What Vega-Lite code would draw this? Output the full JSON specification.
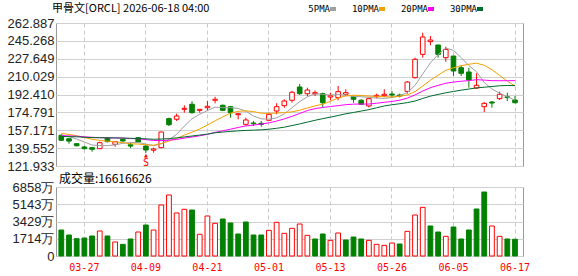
{
  "$schema": "https://vega.github.io/schema/vega-lite/v6.json",
  "background": "#ffffff",
  "padding": {"left": 6, "top": 2, "right": 4, "bottom": 2},
  "spacing": 21,
  "bounds": "flush",
  "data": {"values": [
    {"d":"03-24","o":152.2,"h":153.2,"l":146.8,"c":147.3,"v":2584,"vu":0,"5PMA":152.2,"10PMA":154.0,"20PMA":151.8,"30PMA":151.0},
    {"d":"03-25","o":148.8,"h":149.5,"l":143.9,"c":146.5,"v":2087,"vu":0,"5PMA":150.8,"10PMA":153.1,"20PMA":151.6,"30PMA":150.9},
    {"d":"03-26","o":143.9,"h":144.6,"l":141.3,"c":141.9,"v":1723,"vu":0,"5PMA":148.5,"10PMA":151.7,"20PMA":151.3,"30PMA":150.7},
    {"d":"03-27","o":140.7,"h":141.6,"l":138.3,"c":139.0,"v":1789,"vu":0,"5PMA":145.6,"10PMA":150.0,"20PMA":150.7,"30PMA":150.3},
    {"d":"03-30","o":140.0,"h":140.6,"l":136.0,"c":138.4,"v":1988,"vu":0,"5PMA":142.6,"10PMA":148.3,"20PMA":150.2,"30PMA":149.9},
    {"d":"03-31","o":139.0,"h":145.9,"l":138.6,"c":144.9,"v":2485,"vu":1,"5PMA":142.1,"10PMA":147.2,"20PMA":149.9,"30PMA":149.8},
    {"d":"04-01","o":149.5,"h":149.8,"l":145.2,"c":145.9,"v":1988,"vu":0,"5PMA":142.0,"10PMA":146.4,"20PMA":149.7,"30PMA":149.7},
    {"d":"04-02","o":143.3,"h":146.3,"l":140.9,"c":145.9,"v":1392,"vu":1,"5PMA":142.8,"10PMA":145.7,"20PMA":149.6,"30PMA":149.6},
    {"d":"04-06","o":148.2,"h":148.9,"l":145.9,"c":146.6,"v":1160,"vu":0,"5PMA":144.3,"10PMA":145.0,"20PMA":149.4,"30PMA":149.5},
    {"d":"04-07","o":142.9,"h":144.9,"l":139.7,"c":141.6,"v":1690,"vu":0,"5PMA":145.0,"10PMA":143.8,"20PMA":149.0,"30PMA":149.2},
    {"d":"04-08","o":149.8,"h":150.5,"l":144.9,"c":145.6,"v":2385,"vu":1,"5PMA":145.1,"10PMA":143.6,"20PMA":148.8,"30PMA":149.1},
    {"d":"04-09","o":141.6,"h":142.5,"l":135.0,"c":137.7,"v":3081,"vu":0,"5PMA":143.5,"10PMA":142.8,"20PMA":147.9,"30PMA":148.7,"sig":"S"},
    {"d":"04-10","o":137.5,"h":140.0,"l":135.0,"c":138.7,"v":2584,"vu":1,"5PMA":142.0,"10PMA":142.4,"20PMA":147.1,"30PMA":148.3},
    {"d":"04-13","o":140.0,"h":155.8,"l":139.5,"c":155.4,"v":5069,"vu":1,"5PMA":143.8,"10PMA":144.1,"20PMA":147.0,"30PMA":148.5},
    {"d":"04-14","o":168.6,"h":169.6,"l":161.4,"c":162.6,"v":6063,"vu":1,"5PMA":148.0,"10PMA":146.5,"20PMA":147.4,"30PMA":148.9},
    {"d":"04-15","o":168.0,"h":173.5,"l":166.3,"c":171.2,"v":4274,"vu":1,"5PMA":153.1,"10PMA":149.1,"20PMA":148.1,"30PMA":149.7},
    {"d":"04-16","o":177.8,"h":181.8,"l":174.5,"c":178.8,"v":4641,"vu":1,"5PMA":161.3,"10PMA":152.4,"20PMA":149.4,"30PMA":150.6},
    {"d":"04-17","o":182.8,"h":185.8,"l":173.5,"c":174.5,"v":4572,"vu":0,"5PMA":168.5,"10PMA":155.3,"20PMA":150.5,"30PMA":151.5},
    {"d":"04-20","o":176.8,"h":178.0,"l":174.5,"c":177.8,"v":2157,"vu":1,"5PMA":173.0,"10PMA":158.4,"20PMA":151.7,"30PMA":152.4},
    {"d":"04-21","o":179.4,"h":186.0,"l":176.8,"c":180.8,"v":3976,"vu":1,"5PMA":176.6,"10PMA":162.3,"20PMA":153.1,"30PMA":153.4},
    {"d":"04-22","o":186.7,"h":190.2,"l":183.7,"c":187.7,"v":3250,"vu":1,"5PMA":179.9,"10PMA":166.5,"20PMA":155.1,"30PMA":154.7},
    {"d":"04-23","o":181.8,"h":182.5,"l":176.0,"c":176.8,"v":3677,"vu":0,"5PMA":179.5,"10PMA":170.4,"20PMA":156.6,"30PMA":155.4},
    {"d":"04-24","o":180.4,"h":181.0,"l":169.6,"c":174.5,"v":3280,"vu":0,"5PMA":179.5,"10PMA":174.0,"20PMA":158.2,"30PMA":156.0},
    {"d":"04-27","o":172.5,"h":173.8,"l":167.9,"c":173.5,"v":2187,"vu":0,"5PMA":178.7,"10PMA":175.8,"20PMA":159.9,"30PMA":156.6},
    {"d":"04-28","o":163.0,"h":169.6,"l":161.7,"c":167.3,"v":3379,"vu":0,"5PMA":176.0,"10PMA":176.3,"20PMA":161.4,"30PMA":157.0},
    {"d":"04-29","o":164.3,"h":166.3,"l":161.3,"c":163.6,"v":2087,"vu":0,"5PMA":171.1,"10PMA":175.5,"20PMA":162.3,"30PMA":157.3},
    {"d":"04-30","o":164.0,"h":166.3,"l":160.7,"c":163.0,"v":2087,"vu":0,"5PMA":168.4,"10PMA":174.0,"20PMA":163.2,"30PMA":157.6},
    {"d":"05-01","o":167.0,"h":174.5,"l":166.3,"c":172.9,"v":2551,"vu":1,"5PMA":168.1,"10PMA":173.8,"20PMA":164.5,"30PMA":158.2},
    {"d":"05-04","o":176.1,"h":183.8,"l":173.0,"c":180.4,"v":3346,"vu":1,"5PMA":169.4,"10PMA":174.1,"20PMA":166.2,"30PMA":159.1},
    {"d":"05-05","o":181.4,"h":187.7,"l":179.4,"c":186.0,"v":2253,"vu":1,"5PMA":173.2,"10PMA":174.6,"20PMA":168.4,"30PMA":160.2},
    {"d":"05-06","o":186.7,"h":196.0,"l":184.3,"c":194.6,"v":2750,"vu":1,"5PMA":179.4,"10PMA":175.3,"20PMA":170.9,"30PMA":161.8},
    {"d":"05-07","o":199.8,"h":202.8,"l":192.0,"c":193.2,"v":3180,"vu":1,"5PMA":185.4,"10PMA":176.9,"20PMA":173.7,"30PMA":163.4},
    {"d":"05-08","o":193.2,"h":199.1,"l":190.9,"c":196.8,"v":2054,"vu":1,"5PMA":190.2,"10PMA":179.1,"20PMA":176.6,"30PMA":165.2},
    {"d":"05-11","o":193.2,"h":196.5,"l":190.9,"c":194.2,"v":1690,"vu":0,"5PMA":193.0,"10PMA":181.2,"20PMA":178.5,"30PMA":167.0},
    {"d":"05-12","o":193.2,"h":194.2,"l":180.1,"c":184.3,"v":2187,"vu":0,"5PMA":192.6,"10PMA":182.9,"20PMA":179.6,"30PMA":168.6},
    {"d":"05-13","o":189.9,"h":194.2,"l":186.7,"c":191.2,"v":1557,"vu":1,"5PMA":191.9,"10PMA":185.7,"20PMA":180.6,"30PMA":170.1},
    {"d":"05-14","o":189.3,"h":200.8,"l":186.7,"c":195.2,"v":2286,"vu":1,"5PMA":192.3,"10PMA":188.9,"20PMA":181.4,"30PMA":171.7},
    {"d":"05-15","o":192.6,"h":197.5,"l":190.9,"c":194.2,"v":1590,"vu":0,"5PMA":191.8,"10PMA":191.0,"20PMA":182.4,"30PMA":173.4},
    {"d":"05-18","o":190.2,"h":190.9,"l":184.3,"c":187.7,"v":1888,"vu":0,"5PMA":190.5,"10PMA":191.7,"20PMA":182.9,"30PMA":174.7},
    {"d":"05-19","o":186.7,"h":187.7,"l":182.1,"c":182.8,"v":1690,"vu":0,"5PMA":190.2,"10PMA":191.4,"20PMA":183.0,"30PMA":176.1},
    {"d":"05-20","o":181.1,"h":189.3,"l":179.6,"c":188.3,"v":1557,"vu":1,"5PMA":189.6,"10PMA":190.8,"20PMA":183.0,"30PMA":177.5},
    {"d":"05-21","o":190.2,"h":193.2,"l":188.7,"c":191.6,"v":1160,"vu":1,"5PMA":188.9,"10PMA":190.6,"20PMA":183.8,"30PMA":179.3},
    {"d":"05-22","o":191.2,"h":197.5,"l":189.9,"c":192.6,"v":1060,"vu":1,"5PMA":188.6,"10PMA":190.2,"20PMA":184.7,"30PMA":181.1},
    {"d":"05-26","o":192.9,"h":195.9,"l":189.3,"c":191.9,"v":1292,"vu":1,"5PMA":189.4,"10PMA":190.0,"20PMA":185.6,"30PMA":182.3},
    {"d":"05-27","o":191.9,"h":193.2,"l":189.6,"c":190.9,"v":1193,"vu":0,"5PMA":191.1,"10PMA":190.6,"20PMA":186.8,"30PMA":183.3},
    {"d":"05-28","o":195.5,"h":205.7,"l":193.2,"c":204.7,"v":2451,"vu":1,"5PMA":194.3,"10PMA":192.0,"20PMA":188.8,"30PMA":184.4},
    {"d":"05-29","o":209.0,"h":228.7,"l":208.0,"c":227.1,"v":4075,"vu":1,"5PMA":201.4,"10PMA":195.2,"20PMA":192.0,"30PMA":186.0},
    {"d":"06-01","o":232.0,"h":253.3,"l":228.7,"c":249.1,"v":4837,"vu":1,"5PMA":212.7,"10PMA":200.7,"20PMA":195.8,"30PMA":188.5},
    {"d":"06-02","o":244.5,"h":250.1,"l":240.9,"c":246.1,"v":2982,"vu":0,"5PMA":223.6,"10PMA":206.5,"20PMA":199.1,"30PMA":190.8},
    {"d":"06-03","o":241.2,"h":241.5,"l":228.7,"c":232.0,"v":2385,"vu":0,"5PMA":231.8,"10PMA":211.4,"20PMA":201.4,"30PMA":192.5},
    {"d":"06-04","o":228.7,"h":239.5,"l":224.7,"c":236.9,"v":1955,"vu":1,"5PMA":238.2,"10PMA":216.3,"20PMA":203.5,"30PMA":194.1},
    {"d":"06-05","o":230.3,"h":230.6,"l":210.6,"c":215.6,"v":2882,"vu":0,"5PMA":235.9,"10PMA":218.7,"20PMA":204.7,"30PMA":195.4},
    {"d":"06-08","o":218.8,"h":221.2,"l":210.6,"c":213.3,"v":1690,"vu":0,"5PMA":228.8,"10PMA":220.8,"20PMA":205.5,"30PMA":196.7},
    {"d":"06-09","o":214.6,"h":218.8,"l":199.1,"c":206.7,"v":2584,"vu":0,"5PMA":220.9,"10PMA":222.2,"20PMA":206.1,"30PMA":197.8},
    {"d":"06-10","o":198.8,"h":213.3,"l":198.2,"c":201.5,"v":4671,"vu":0,"5PMA":214.8,"10PMA":223.3,"20PMA":207.0,"30PMA":198.9},
    {"d":"06-11","o":180.4,"h":185.0,"l":175.2,"c":183.7,"v":6361,"vu":0,"5PMA":204.2,"10PMA":221.2,"20PMA":206.6,"30PMA":199.6},
    {"d":"06-12","o":185.0,"h":186.0,"l":179.4,"c":184.0,"v":2982,"vu":1,"5PMA":197.8,"10PMA":216.9,"20PMA":206.0,"30PMA":200.3},
    {"d":"06-15","o":188.3,"h":195.2,"l":187.0,"c":192.6,"v":1955,"vu":1,"5PMA":193.7,"10PMA":211.2,"20PMA":206.0,"30PMA":201.0},
    {"d":"06-16","o":190.2,"h":194.2,"l":186.0,"c":189.3,"v":1690,"vu":0,"5PMA":190.2,"10PMA":205.6,"20PMA":206.0,"30PMA":201.3},
    {"d":"06-17","o":187.0,"h":190.9,"l":183.7,"c":184.3,"v":1662,"vu":0,"5PMA":186.8,"10PMA":200.8,"20PMA":206.1,"30PMA":201.2}
  ]},
  "config": {
    "view": {"stroke": "#999999"},
    "title": {"font": "Noto Sans CJK SC", "fontSize": 12, "fontWeight": "normal", "color": "#000000", "anchor": "start", "frame": "group"},
    "axis": {"labelOverlap": false, "ticks": false, "tickSize": 0, "domain": false, "title": null},
    "axisY": {"labelFont": "Liberation Sans", "labelFontSize": 13, "labelColor": "#222222", "labelPadding": 2, "grid": true, "gridColor": "#d0d0d0", "gridWidth": 1, "labelOverlap": false}
  },
  "resolve": {"legend": {"color": "independent"}},
  "vconcat": [
    {
      "width": 467,
      "height": 143,
      "title": {"text": "甲骨文[ORCL] 2026-06-18 04:00", "offset": -10, "dx": -4, "fontSize": 11},
      "encoding": {
        "x": {
          "field": "d", "type": "ordinal",
          "scale": {"type": "band", "paddingInner": 0, "paddingOuter": 0.365, "align": 0.26},
          "axis": {"labels": false, "title": null, "grid": true, "gridDash": [4, 3], "gridColor": "#c8c8c8",
                   "values": ["03-27", "04-09", "04-21", "05-01", "05-13", "05-26", "06-05", "06-17"]}
        }
      },
      "layer": [
        {
          "mark": {"type": "rule", "strokeWidth": 1},
          "encoding": {
            "y": {"field": "l", "type": "quantitative",
                  "scale": {"domain": [121.933, 262.887], "nice": false, "zero": false},
                  "axis": {"title": null, "format": ".3f", "labelOverlap": false, "labelSeparation": 0, "tickCount": 9,
                           "values": [121.933, 139.552, 157.171, 174.791, 192.41, 210.029, 227.649, 245.268, 262.887]}},
            "y2": {"field": "h"},
            "stroke": {"condition": {"test": "datum.c >= datum.o", "value": "#ff0000"}, "value": "#008000"}
          }
        },
        {
          "mark": {"type": "bar", "width": {"band": 0.6}, "strokeWidth": 1},
          "encoding": {
            "y": {"field": "o", "type": "quantitative",
                  "axis": {"title": null, "format": ".3f", "labelOverlap": false, "labelSeparation": 0, "tickCount": 9,
                           "values": [121.933, 139.552, 157.171, 174.791, 192.41, 210.029, 227.649, 245.268, 262.887]}},
            "y2": {"field": "c"},
            "fill": {"condition": {"test": "datum.c >= datum.o", "value": "#ffffff"}, "value": "#008000"},
            "stroke": {"condition": {"test": "datum.c >= datum.o", "value": "#ff0000"}, "value": "#008000"}
          }
        },
        {
          "transform": [{"fold": ["5PMA", "10PMA", "20PMA", "30PMA"], "as": ["ma", "val"]}],
          "mark": {"type": "line", "strokeWidth": 1},
          "encoding": {
            "y": {"field": "val", "type": "quantitative",
                  "axis": {"title": null, "format": ".3f", "labelOverlap": false, "labelSeparation": 0, "tickCount": 9,
                           "values": [121.933, 139.552, 157.171, 174.791, 192.41, 210.029, 227.649, 245.268, 262.887]}},
            "color": {
              "field": "ma", "type": "nominal",
              "scale": {"domain": ["5PMA", "10PMA", "20PMA", "30PMA"], "range": ["#a0a0a0", "#f5a000", "#ff00ff", "#006b2e"]},
              "legend": {"orient": "none", "legendX": 272, "legendY": -19, "direction": "horizontal", "title": null,
                         "symbolType": "stroke", "symbolSize": 36, "symbolStrokeWidth": 4,
                         "labelFont": "DejaVu Sans Mono", "labelFontSize": 9, "labelColor": "#000000",
                         "labelAlign": "right", "labelOffset": -8, "columnPadding": 7, "padding": 0, "labelLimit": 0}
            }
          }
        },
        {
          "transform": [{"filter": "datum.sig == 'S'"}],
          "mark": {"type": "text", "dy": 10, "color": "#ff0000", "font": "DejaVu Sans Mono", "fontSize": 10, "baseline": "middle"},
          "encoding": {
            "y": {"field": "l", "type": "quantitative",
                  "axis": {"title": null, "format": ".3f", "labelOverlap": false, "labelSeparation": 0, "tickCount": 9,
                           "values": [121.933, 139.552, 157.171, 174.791, 192.41, 210.029, 227.649, 245.268, 262.887]}},
            "text": {"field": "sig"}
          }
        },
        {
          "transform": [{"filter": "datum.sig == 'S'"}],
          "mark": {"type": "text", "dy": 2, "color": "#ff0000", "font": "DejaVu Sans", "fontSize": 5, "baseline": "middle", "text": "▲"},
          "encoding": {
            "y": {"field": "l", "type": "quantitative",
                  "axis": {"title": null, "format": ".3f", "labelOverlap": false, "labelSeparation": 0, "tickCount": 9,
                           "values": [121.933, 139.552, 157.171, 174.791, 192.41, 210.029, 227.649, 245.268, 262.887]}}
          }
        }
      ]
    },
    {
      "width": 467,
      "height": 69,
      "title": {"text": "成交量:16616626", "offset": -5, "dx": 3},
      "mark": {"type": "bar", "width": {"band": 0.62}, "strokeWidth": 1},
      "encoding": {
        "x": {
          "field": "d", "type": "ordinal",
          "scale": {"type": "band", "paddingInner": 0, "paddingOuter": 0.365, "align": 0.26},
          "axis": {"title": null, "grid": true, "gridDash": [4, 3], "gridColor": "#c8c8c8",
                   "labelColor": "#ff0000", "labelFont": "DejaVu Sans Mono", "labelFontSize": 10, "labelPadding": 6, "labelAngle": 0,
                   "values": ["03-27", "04-09", "04-21", "05-01", "05-13", "05-26", "06-05", "06-17"]}
        },
        "y": {
          "field": "v", "type": "quantitative",
          "scale": {"domain": [0, 6858], "nice": false, "zero": true},
          "axis": {"title": null, "values": [0, 1714, 3429, 5143, 6858], "labelOverlap": false,
                   "labelExpr": "datum.value == 0 ? '0' : datum.value + '万'"}
        },
        "fill": {"condition": {"test": "datum.vu == 1", "value": "#ffffff"}, "value": "#008000"},
        "stroke": {"condition": {"test": "datum.vu == 1", "value": "#ff0000"}, "value": "#008000"}
      }
    }
  ]
}
